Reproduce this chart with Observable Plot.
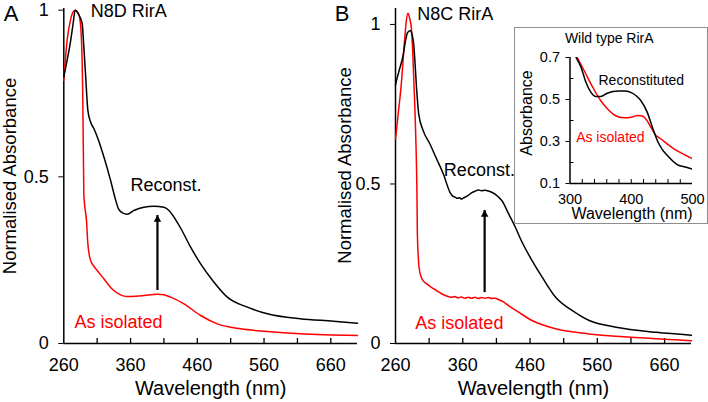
<!DOCTYPE html>
<html><head><meta charset="utf-8">
<script src="https://cdn.jsdelivr.net/npm/d3@7"></script>
<script src="https://cdn.jsdelivr.net/npm/@observablehq/plot@0.6"></script>
<style>
body{margin:0;background:#fff;}
#fig{position:relative;width:708px;height:402px;overflow:hidden;background:#fff;}
#fig svg{position:absolute;}
#box{position:absolute;left:514px;top:27px;width:194px;height:197px;box-sizing:border-box;border:1.5px solid #8e8e8e;background:#fff;}
</style></head><body><div id="fig"><div id="box"></div></div>
<script>
// ---------- data (wavelength nm, absorbance) ----------
const n8dReconst = [[260,0.80],[265,0.85],[270,0.905],[274,0.96],[277,1.0],[280,0.995],[284,0.98],[287.5,0.96],[290,0.89],[292.5,0.81],[296,0.70],[300,0.665],[305,0.645],[312,0.61],[320,0.56],[330,0.49],[337,0.435],[342,0.404],[348,0.392],[355,0.388],[365,0.399],[380,0.409],[395,0.412],[410,0.409],[418,0.398],[425,0.379],[437,0.339],[450,0.289],[465,0.239],[485,0.184],[505,0.139],[535,0.109],[565,0.089],[614,0.074],[664,0.067],[700,0.061]];
const n8dIsolated = [[260,0.79],[265,0.91],[270,0.97],[274,0.995],[277,1.0],[280,0.995],[283.5,0.98],[286.5,0.91],[288.5,0.73],[290,0.45],[291,0.42],[294,0.369],[296,0.30],[300,0.25],[305,0.232],[310,0.219],[320,0.194],[332,0.164],[345,0.146],[355,0.141],[368,0.142],[380,0.144],[400,0.148],[410,0.146],[420,0.139],[440,0.119],[465,0.084],[490,0.059],[525,0.044],[565,0.036],[614,0.029],[700,0.024]];
const n8cReconst = [[260,0.81],[261,0.82],[266,0.86],[271,0.90],[275,0.95],[278,0.975],[282,0.98],[285,0.965],[287,0.94],[289,0.88],[291,0.81],[294.5,0.72],[301,0.668],[311,0.626],[321,0.579],[331,0.532],[341,0.474],[345,0.462],[348.5,0.459],[352,0.455],[355,0.457],[358,0.453],[362,0.457],[368,0.464],[373,0.472],[378,0.477],[383,0.481],[388,0.479],[393,0.48],[398,0.478],[403,0.474],[408,0.468],[413,0.459],[418,0.448],[428,0.407],[438,0.365],[448,0.318],[463,0.26],[478,0.208],[498,0.145],[523,0.103],[548,0.072],[588,0.051],[648,0.035],[700,0.026]];
const n8cIsolated = [[260,0.64],[264,0.72],[268.5,0.81],[273.5,0.95],[276,1.01],[278.5,1.035],[281,1.02],[283.5,0.99],[285.5,0.92],[287.5,0.81],[290,0.657],[292,0.448],[292.5,0.344],[295,0.239],[298,0.21],[301,0.197],[307,0.186],[313.5,0.176],[321,0.166],[328.5,0.156],[336,0.149],[343,0.145],[348,0.147],[353,0.143],[358,0.146],[363,0.142],[368,0.145],[373,0.142],[378,0.145],[383,0.141],[388,0.144],[393,0.142],[398,0.144],[403,0.141],[408,0.142],[413,0.138],[420,0.131],[428,0.119],[443,0.098],[463,0.072],[498,0.046],[548,0.030],[623,0.018],[700,0.009]];
const wtReconst = [[310,0.70],[318,0.654],[326,0.582],[334,0.535],[342,0.514],[350,0.514],[361,0.53],[370,0.538],[380,0.541],[390,0.54],[400,0.533],[408,0.518],[415.5,0.495],[426,0.44],[434.5,0.368],[442.5,0.305],[450,0.265],[459,0.233],[475,0.19],[490,0.177],[500,0.168]];
const wtIsolated = [[310,0.71],[323,0.638],[337,0.559],[350,0.495],[361,0.456],[370,0.432],[377.5,0.419],[385,0.414],[394,0.413],[403,0.418],[410,0.424],[416,0.423],[421,0.416],[426,0.398],[432,0.368],[440,0.33],[448,0.313],[458,0.29],[469.5,0.265],[485,0.24],[500,0.218]];

// tick values
const mainXTicks = [260, 360, 460, 560, 660];
const mainXMinor = [310, 360, 410, 460, 510, 560, 610, 660];
const mainYTicks = [0, 0.5, 1];
const insetXTicks = [300, 400, 500];
const insetXMinor = [320, 340, 360, 380, 400, 420, 440, 460, 480];
const insetYTicks = [0.1, 0.3, 0.5, 0.7];
const insetYMinor = [0.2, 0.4, 0.6];

// arrows (wavelength, from, to)
const arrowA = [{x: 400.3, y1: 0.171, y2: 0.384}];
const arrowB = [{x: 392.5, y1: 0.172, y2: 0.417}];

// annotations
const annA = {black: [{t: "N8D RirA", x: 300.4, y: 0.998}, {t: "Reconst.", x: 359.8, y: 0.474}], red: [{t: "As isolated", x: 276, y: 0.0645}]};
const annB = {black: [{t: "N8C RirA", x: 292.3, y: 1.031}, {t: "Reconst.", x: 331.9, y: 0.542}], red: [{t: "As isolated", x: 289.5, y: 0.0627}]};
const annW = {black: [{t: "Reconstituted", x: 346.5, y: 0.59}], red: [{t: "As isolated", x: 310, y: 0.319}]};

const FONT = '"Liberation Sans", Arial, Helvetica, sans-serif';
const RED = "#ff0000";
const fmt = d => String(d);
const X = d => d[0], Y = d => d[1];
const C = {textAnchor: "middle", lineAnchor: "middle"};

function mainPanel(o) {
  return Plot.plot({
    width: o.width, height: 402,
    marginLeft: o.ml, marginRight: o.mr, marginTop: 8, marginBottom: 59,
    style: {background: "none", fontFamily: FONT, fontSize: "18px", overflow: "visible", color: "black"},
    x: {domain: [260, 700], ticks: mainXTicks, tickFormat: fmt, tickSize: 0, tickPadding: 14.5, label: null},
    y: {domain: [0, o.ymax], ticks: mainYTicks, tickFormat: fmt, tickSize: 5, tickPadding: 10, label: null},
    marks: [
      Plot.ruleX(mainXMinor, {y1: 0, y2: 5 / (335 / o.ymax), strokeWidth: 1.3}),
      Plot.ruleY([0], {strokeWidth: 1.5}),
      Plot.ruleX([260], {strokeWidth: 1.5}),
      Plot.line(o.iso, {x: X, y: Y, stroke: RED, strokeWidth: 1.5, curve: "monotone-x"}),
      Plot.line(o.rec, {x: X, y: Y, stroke: "black", strokeWidth: 1.5, curve: "monotone-x"}),
      Plot.ruleX(o.arrow, {x: "x", y1: "y1", y2: "y2", strokeWidth: 2.2, insetTop: 4}),
      Plot.dot(o.arrow, {x: "x", y: "y2", symbol: "triangle", r: 2.8, fill: "black", stroke: "none", dy: 4}),
      Plot.text(o.ann.black, {x: "x", y: "y", text: "t", fill: "black", textAnchor: "start", lineAnchor: "middle", fontSize: 18}),
      Plot.text(o.ann.red, {x: "x", y: "y", text: "t", fill: RED, textAnchor: "start", lineAnchor: "middle", fontSize: 18}),
      Plot.text([o.letter], {...C, text: d => d, frameAnchor: "top-left", dx: o.ldx, dy: 5.9, fontSize: 22}),
      Plot.text(["Normalised Absorbance"], {...C, text: d => d, frameAnchor: "left", rotate: -90, dx: o.ydx, dy: o.ydy, fontSize: 18.5}),
      Plot.text(["Wavelength (nm)"], {...C, text: d => d, frameAnchor: "bottom", dx: o.xdx, dy: 45, fontSize: 20})
    ]
  });
}

const fig = document.getElementById("fig");
const box = document.getElementById("box");

const svgA = mainPanel({width: 360, ml: 63.3, mr: 3, ymax: 1.005, iso: n8dIsolated, rec: n8dReconst, arrow: arrowA, ann: annA, letter: "A", ldx: -52.6, ydx: -54, ydy: 0, xdx: 0});
svgA.style.left = "0px"; svgA.style.top = "0px";
fig.insertBefore(svgA, box);

const svgB = mainPanel({width: 378, ml: 65, mr: 17, ymax: 1.05, iso: n8cIsolated, rec: n8cReconst, arrow: arrowB, ann: annB, letter: "B", ldx: -53.5, ydx: -50.5, ydy: -10.5, xdx: -10});
svgB.style.left = "330px"; svgB.style.top = "0px";
fig.insertBefore(svgB, box);

const svgW = Plot.plot({
  width: 194, height: 197,
  marginLeft: 55.5, marginRight: 16, marginTop: 30, marginBottom: 41,
  style: {background: "none", fontFamily: FONT, fontSize: "14.5px", overflow: "visible", color: "black"},
  x: {domain: [300, 500], ticks: insetXTicks, tickFormat: fmt, tickSize: 0, tickPadding: 10.5, label: null},
  y: {domain: [0.1, 0.7], ticks: insetYTicks, tickFormat: fmt, tickSize: 4, tickPadding: 6, label: null},
  marks: [
    Plot.ruleX(insetXMinor, {y1: 0.1, y2: 0.1 + 4 / 210, strokeWidth: 1}),
    Plot.ruleY(insetYMinor, {x1: 300, x2: 300 + 4 / 0.6125, strokeWidth: 1}),
    Plot.ruleY([0.1], {strokeWidth: 1.5}),
    Plot.ruleX([300], {strokeWidth: 1.5}),
    Plot.line(wtIsolated, {x: X, y: Y, stroke: RED, strokeWidth: 1.5, curve: "monotone-x", clip: true}),
    Plot.line(wtReconst, {x: X, y: Y, stroke: "black", strokeWidth: 1.5, curve: "monotone-x", clip: true}),
    Plot.text(annW.black, {x: "x", y: "y", text: "t", fill: "black", textAnchor: "start", lineAnchor: "middle", fontSize: 14}),
    Plot.text(annW.red, {x: "x", y: "y", text: "t", fill: RED, textAnchor: "start", lineAnchor: "middle", fontSize: 14}),
    Plot.text(["Wild type RirA"], {...C, text: d => d, frameAnchor: "top", dx: -22, dy: -19, fontSize: 14}),
    Plot.text(["Absorbance"], {...C, text: d => d, frameAnchor: "left", rotate: -90, dx: -43.5, dy: -7.5, fontSize: 16}),
    Plot.text(["Wavelength (nm)"], {...C, text: d => d, frameAnchor: "bottom", dx: 0.75, dy: 30.5, fontSize: 16})
  ]
});
svgW.style.left = "514px"; svgW.style.top = "27px";
fig.appendChild(svgW);
</script></body></html>
